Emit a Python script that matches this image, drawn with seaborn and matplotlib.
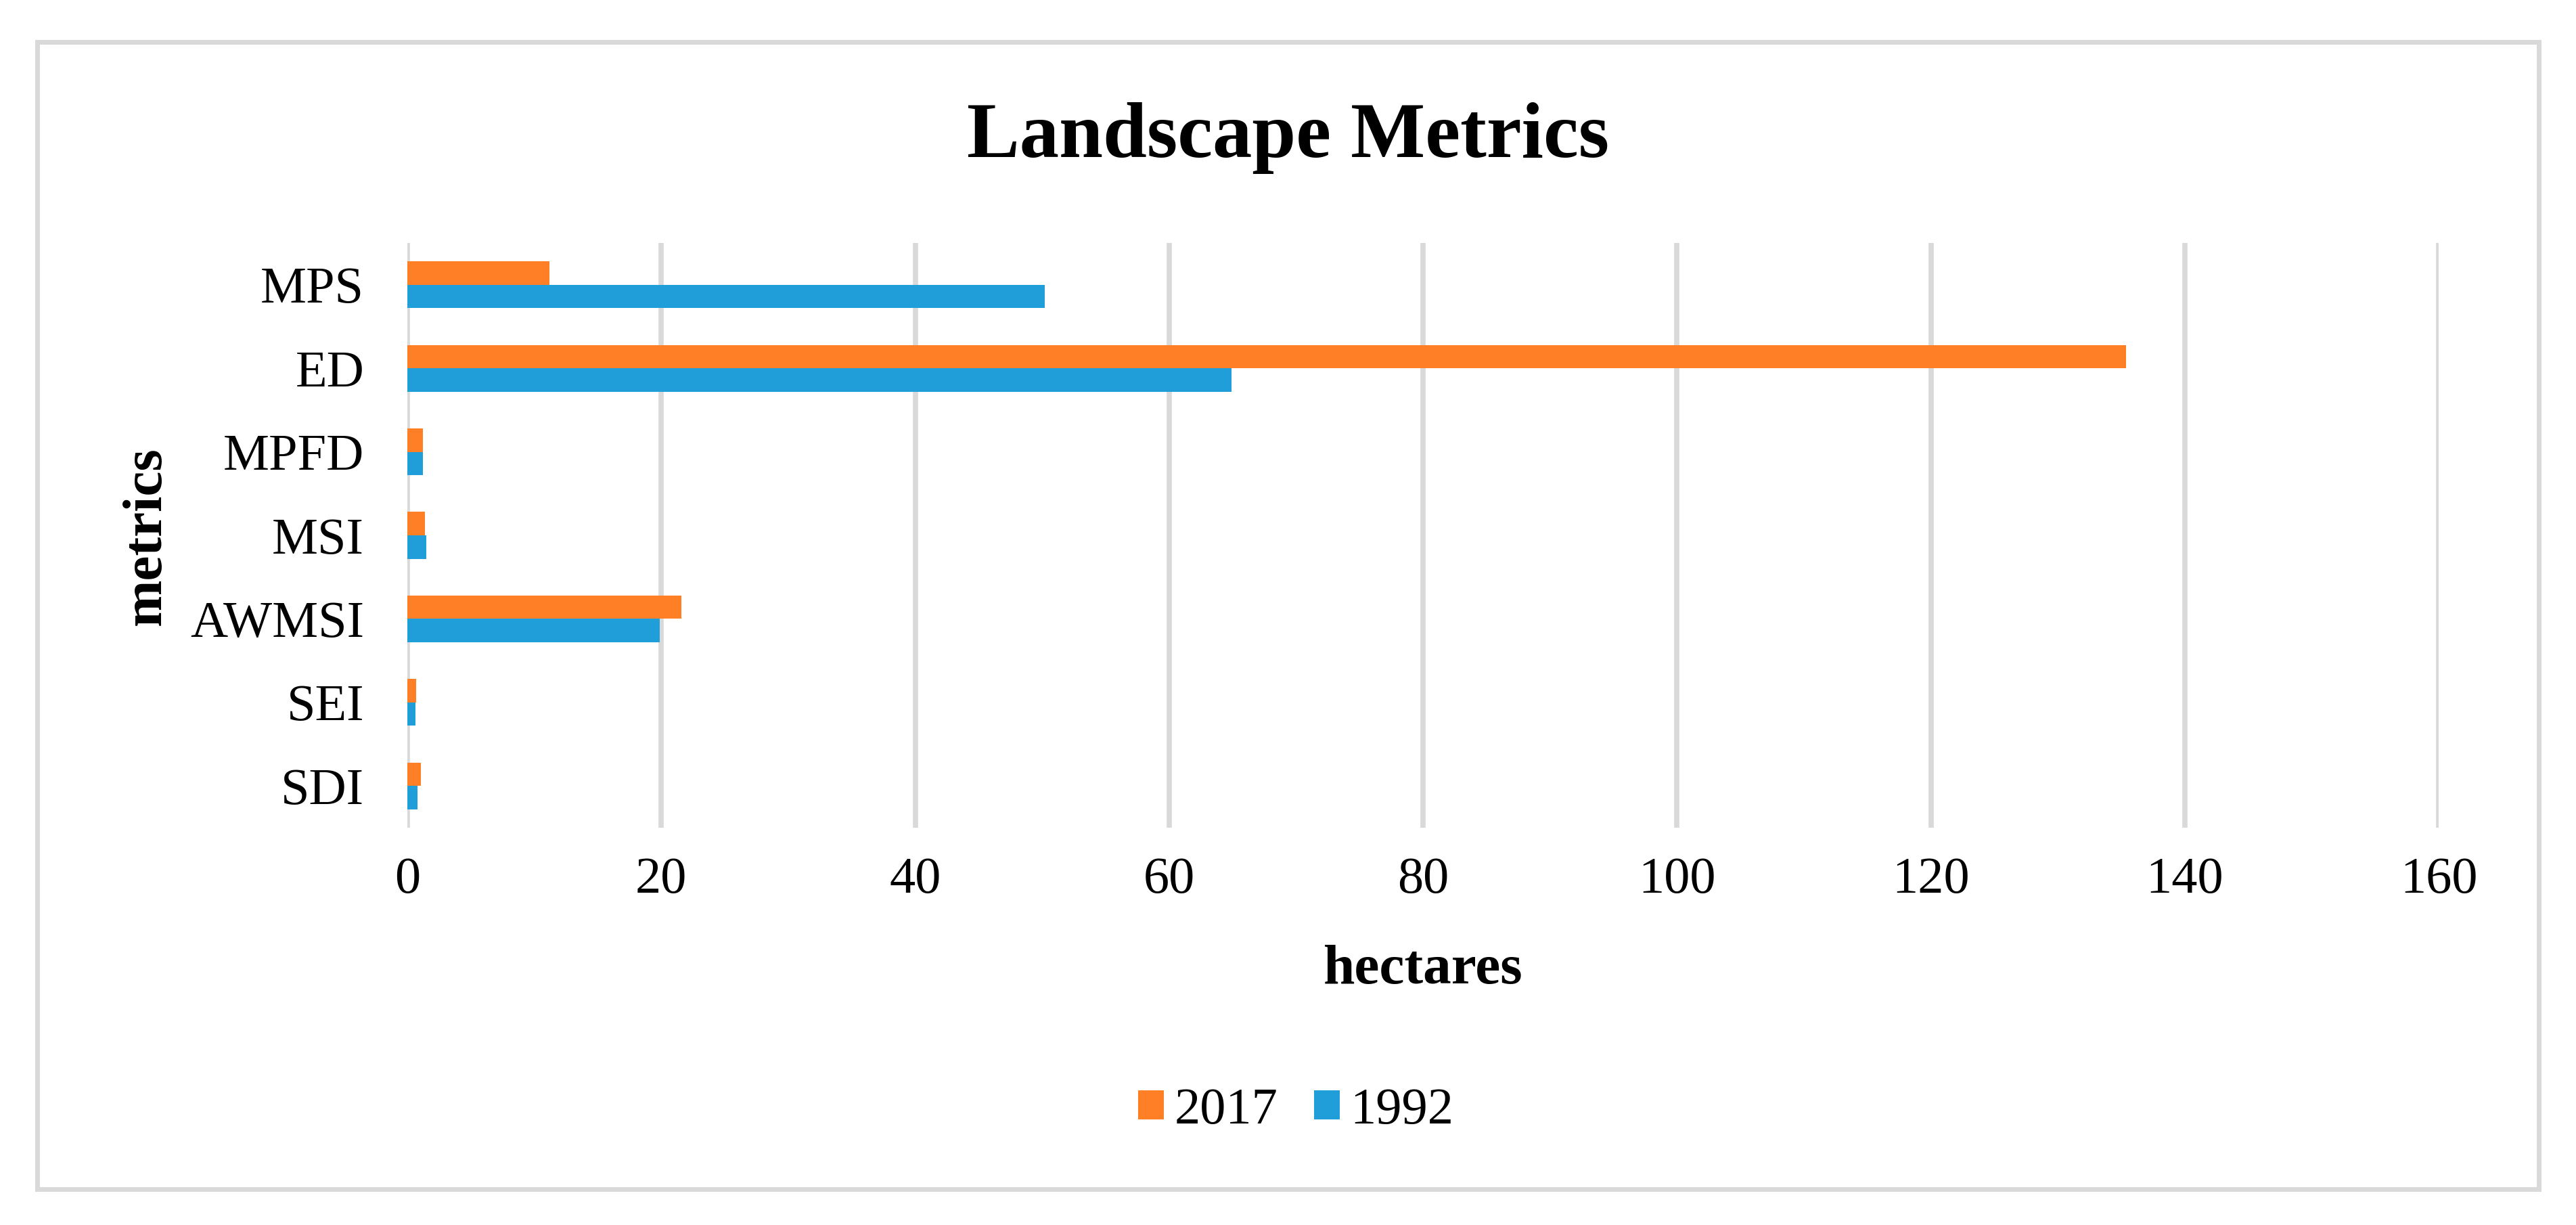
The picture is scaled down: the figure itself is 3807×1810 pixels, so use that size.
import pandas as pd
import matplotlib
matplotlib.use("Agg")
import matplotlib.pyplot as plt
import matplotlib.patches as mpatches
import seaborn as sns

# ── data ──
metrics = ["MPS", "ED", "MPFD", "MSI", "AWMSI", "SEI", "SDI"]
years = ["2017", "1992"]
values_2017 = [11.2, 135.4, 1.25, 1.4, 21.6, 0.7, 1.05]
values_1992 = [50.2, 64.9, 1.25, 1.5, 19.9, 0.65, 0.8]
x_ticks = [0, 20, 40, 60, 80, 100, 120, 140, 160]
colors = {"2017": "#FF7F27", "1992": "#1F9ED9"}

df = pd.DataFrame({
    "metric": metrics * 2,
    "year": ["2017"] * len(metrics) + ["1992"] * len(metrics),
    "value": values_2017 + values_1992,
})

sns.set_theme(style="white")
plt.rcParams["font.family"] = ["Liberation Serif", "DejaVu Serif"]
plt.rcParams["text.color"] = "black"
plt.rcParams["xtick.color"] = "black"
plt.rcParams["ytick.color"] = "black"

W, H = 3807, 1810
fig = plt.figure(figsize=(W / 100, H / 100), dpi=100)
ax = fig.add_axes([602 / W, 1 - 1223 / H, (3604 - 602) / W, (1223 - 359) / H])

sns.barplot(data=df, x="value", y="metric", hue="year", hue_order=years,
            order=metrics, palette=colors, orient="h", width=0.56, gap=0,
            saturation=1, linewidth=0, ax=ax, legend=False, zorder=3)

ax.set_xlim(0, 160)
ax.set_ylim(6.5, -0.5)
ax.set_xticks(x_ticks)
ax.set_xticklabels([str(t) for t in x_ticks])
ax.xaxis.grid(True, color="#D9D9D9", linewidth=5.5, zorder=0)
ax.yaxis.grid(False)
ax.set_axisbelow(True)
for s in ax.spines.values():
    s.set_visible(False)
ax.tick_params(axis="x", length=0, pad=31, labelsize=55, labelcolor="black")
ax.tick_params(axis="y", length=0, pad=46, labelsize=55, labelcolor="black")
ax.set_xlabel("")
ax.set_ylabel("")

# title and axis titles
fig.text(0.5, 1 - 232 / H, "Landscape Metrics", ha="center", va="baseline",
         fontsize=84, fontweight="bold", color="black")
fig.text(2103 / W, 1 - 1453 / H, "hectares", ha="center", va="baseline",
         fontsize=60, fontweight="bold", color="black")
fig.text(237 / W, 1 - 792 / H, "metrics", ha="center", va="baseline",
         rotation=90, rotation_mode="anchor", fontsize=60, fontweight="bold",
         color="black")

# legend
handles = [mpatches.Patch(color=colors[y], linewidth=0) for y in years]
leg = fig.legend(handles, years, loc="center", bbox_to_anchor=(1915 / W, 1 - 1641 / H),
                 ncol=2, frameon=False, fontsize=55, handlelength=0.5, handleheight=0.5,
                 handletextpad=0.2, columnspacing=0.7, borderpad=0)
for t in leg.get_texts():
    t.set_color("black")

# outer chart border
border = mpatches.Rectangle((54.5 / W, 1 - 1757 / H), (3751.5 - 54.5) / W, (1757 - 62.5) / H,
                            transform=fig.transFigure, fill=False,
                            edgecolor="#D9D9D9", linewidth=5)
fig.patches.append(border)

fig.savefig("out.png", dpi=100, facecolor="white")
